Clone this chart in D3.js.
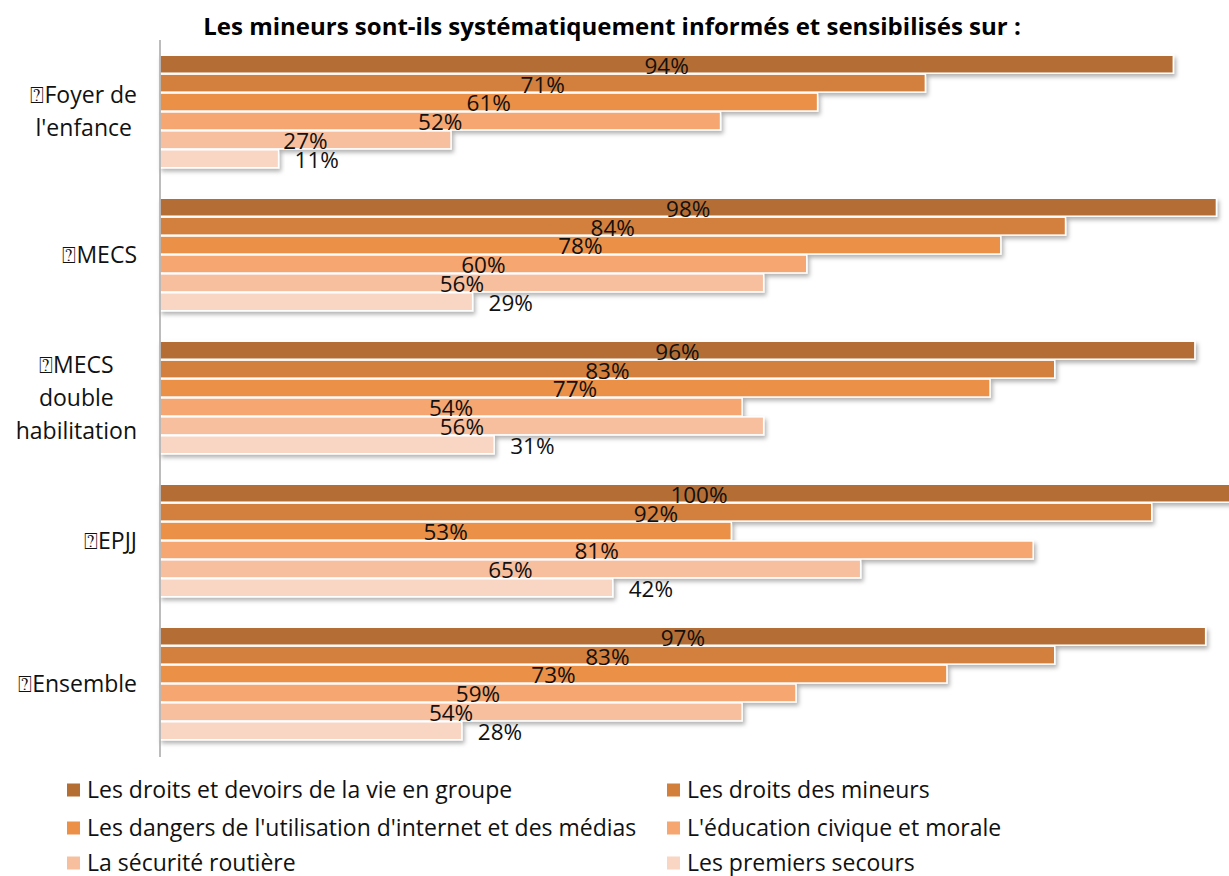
<!DOCTYPE html>
<html>
<head>
<meta charset="utf-8">
<script src="https://cdn.jsdelivr.net/npm/d3@7"></script>
<style>
  body { margin: 0; background: #fff; }
  text { font-family: "Open Sans", sans-serif; }
</style>
</head>
<body>
<div id="chart"></div>
<script>
const width = 1229;
const height = 876;

const categories = [
  ["\u2370Foyer de", "l'enfance"],
  ["\u2370MECS"],
  ["\u2370MECS", "double", "habilitation"],
  ["\u2370EPJJ"],
  ["\u2370Ensemble"]
];
const seriesNames = [
  "Les droits et devoirs de la vie en groupe",
  "Les droits des mineurs",
  "Les dangers de l'utilisation d'internet et des médias",
  "L'éducation civique et morale",
  "La sécurité routière",
  "Les premiers secours"
];
const droitsDevoirs = [94, 98, 96, 100, 97];
const droitsMineurs = [71, 84, 83, 92, 83];
const dangersInternet = [61, 78, 77, 53, 73];
const educationCivique = [52, 60, 54, 81, 59];
const securiteRoutiere = [27, 56, 56, 65, 54];
const premiersSecours = [11, 29, 31, 42, 28];
const seriesValues = [droitsDevoirs, droitsMineurs, dangersInternet, educationCivique, securiteRoutiere, premiersSecours];
const colors = ["#b46e34", "#d37f3c", "#eb9046", "#f5a671", "#f8bf9f", "#f9d5c3"];

const svg = d3.select("#chart")
  .append("svg")
  .attr("width", width)
  .attr("height", height);

const defs = svg.append("defs");
const shadow = defs.append("filter").attr("id", "shadow")
  .attr("x", "-5%").attr("y", "-30%").attr("width", "110%").attr("height", "180%");
shadow.append("feDropShadow")
  .attr("dx", 2).attr("dy", 3).attr("stdDeviation", 2)
  .attr("flood-color", "#000").attr("flood-opacity", 0.3);

const x0 = 160;
const x = d3.scaleLinear().domain([0, 100]).range([x0, 1238]);
const y = d3.scaleBand().domain(d3.range(categories.length)).range([40, 755]).paddingInner(0.2).paddingOuter(0.1);
const ySub = d3.scaleBand().domain(d3.range(seriesNames.length)).range([0, y.bandwidth()]).padding(0.05);

// title
svg.append("text")
  .attr("x", 612).attr("y", 35)
  .attr("text-anchor", "middle")
  .style("font-weight", "bold")
  .style("font-size", "24px")
  .text("Les mineurs sont-ils systématiquement informés et sensibilisés sur :");

// bars
const groups = svg.append("g").selectAll("g")
  .data(categories)
  .enter().append("g")
  .attr("transform", (d, i) => `translate(0,${y(i)})`);

groups.each(function (cat, ci) {
  const g = d3.select(this);
  seriesValues.forEach((vals, si) => {
    g.append("rect")
      .attr("x", x0)
      .attr("y", ySub(si))
      .attr("width", x(vals[ci]) - x0)
      .attr("height", ySub.bandwidth())
      .attr("fill", colors[si])
      .attr("stroke", "#fff")
      .attr("stroke-width", 1.5)
      .attr("filter", "url(#shadow)");
  });
  seriesValues.forEach((vals, si) => {
    const last = si === seriesValues.length - 1;
    g.append("text")
      .attr("x", last ? x(vals[ci]) + 16 : (x0 + x(vals[ci])) / 2)
      .attr("y", ySub(si) + ySub.bandwidth() / 2 + 1.5)
      .attr("dy", "0.35em")
      .attr("text-anchor", last ? "start" : "middle")
      .style("font-size", "22.5px")
      .style("fill", "#111")
      .text(vals[ci] + "%");
  });

  // category label: right-aligned block, lines centred
  const lbl = g.append("text").style("font-size", "23px").style("fill", "#111");
  const lineH = 33;
  const cy = y.bandwidth() / 2;
  const tsp = lbl.selectAll("tspan").data(cat).enter().append("tspan")
    .attr("y", (d, i) => cy + (i - (cat.length - 1) / 2) * lineH)
    .attr("dy", "0.35em")
    .attr("text-anchor", "middle")
    .text(d => d);
  let maxW = 0;
  tsp.each(function () { maxW = Math.max(maxW, this.getComputedTextLength()); });
  tsp.attr("x", 137 - maxW / 2);
});

// axis line
svg.append("line")
  .attr("x1", x0).attr("x2", x0)
  .attr("y1", 40).attr("y2", 757)
  .attr("stroke", "#a6a6a6").attr("stroke-width", 1.5);

// legend
const legendCols = [67, 667];
const legendRows = [790, 828, 863];
const legend = svg.append("g").selectAll("g")
  .data(seriesNames)
  .enter().append("g")
  .attr("transform", (d, i) => `translate(${legendCols[i % 2]},${legendRows[Math.floor(i / 2)]})`);
legend.append("rect")
  .attr("x", 0).attr("y", -6.5)
  .attr("width", 13).attr("height", 13)
  .attr("fill", (d, i) => colors[i]);
legend.append("text")
  .attr("x", 20).attr("y", 0).attr("dy", "0.35em")
  .style("font-size", "23px")
  .style("fill", "#111")
  .text(d => d);
</script>
</body>
</html>
